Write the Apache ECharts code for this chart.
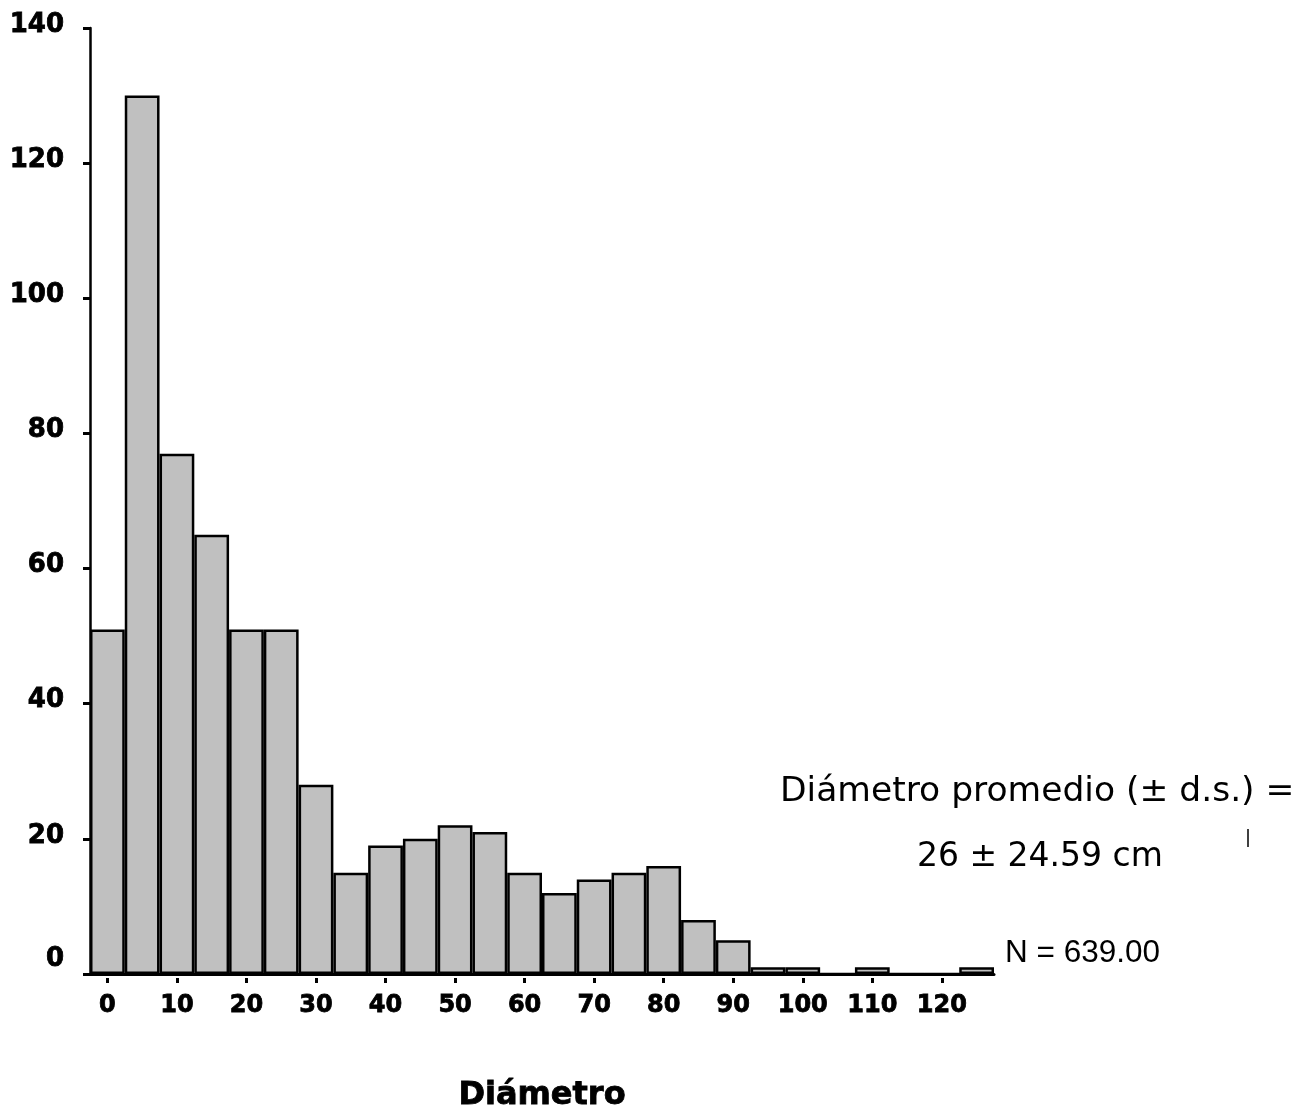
<!DOCTYPE html>
<html>
<head>
<meta charset="utf-8">
<title>Diámetro</title>
<script src="https://cdn.jsdelivr.net/npm/echarts@6/dist/echarts.min.js"></script>
<style>
  html, body { margin: 0; padding: 0; background: #ffffff; }
  #chart { width: 1307px; height: 1110px; }
</style>
</head>
<body>
<div id="chart"></div>
<script>
// Diameter classes (bin centres, cm), 5 cm wide
const binCentres = [0, 5, 10, 15, 20, 25, 30, 35, 40, 45, 50, 55, 60, 65,
                    70, 75, 80, 85, 90, 95, 100, 105, 110, 115, 120, 125];
// Number of trees per class (N = 639)
const counts = [51, 130, 77, 65, 51, 51, 28, 15, 19, 20, 22, 21, 15, 12,
                14, 15, 16, 8, 5, 1, 1, 0, 1, 0, 0, 1];
// Frequency axis ticks
const yTicks = [0, 20, 40, 60, 80, 100, 120, 140];

const statLine1 = 'Diámetro promedio (± d.s.) =';
const statLine2 = '26 ± 24.59 cm';
const nLabel = 'N = 639.00';

const boldFont = 'DejaVu Sans';
const heavy = { fontFamily: boldFont, fontWeight: 'bold', color: '#000',
                textBorderColor: '#000', textBorderWidth: 0.8 };
const chart = echarts.init(document.getElementById('chart'));

const cats = binCentres.map(String);

chart.setOption({
  animation: false,
  backgroundColor: '#ffffff',
  grid: { left: 90, right: 313, top: 28, bottom: 136, containLabel: false,
          outerBoundsMode: 'none' },
  xAxis: [
    {
      type: 'category',
      data: cats,
      boundaryGap: true,
      position: 'bottom',
      axisLine: { show: true, lineStyle: { color: '#000', width: 3 } },
      axisTick: { show: false },
      axisLabel: { show: false },
      splitLine: { show: false },
      name: 'Diámetro',
      nameLocation: 'middle',
      nameGap: 106,
      nameTextStyle: Object.assign({ fontSize: 32 }, heavy)
    },
    {
      type: 'category',
      data: cats,
      boundaryGap: true,
      position: 'bottom',
      offset: 4,
      axisLine: { show: false },
      axisTick: { show: true, alignWithLabel: true, interval: 1, length: 5,
                  lineStyle: { color: '#000', width: 3 } },
      axisLabel: Object.assign({ show: true, interval: 1, margin: 16, fontSize: 24 }, heavy),
      splitLine: { show: false }
    }
  ],
  yAxis: {
    type: 'value',
    min: yTicks[0],
    max: yTicks[yTicks.length - 1],
    interval: yTicks[1] - yTicks[0],
    axisLine: { show: true, lineStyle: { color: '#000', width: 2.5 } },
    axisTick: { show: true, length: 7, lineStyle: { color: '#000', width: 3 } },
    axisLabel: Object.assign({
      margin: 26, fontSize: 26,
      // the zero label sits a little higher so it clears the category labels
      formatter: v => (v === 0 ? '{z|0}' : '{n|' + v + '}'),
      rich: {
        n: Object.assign({ fontSize: 26, padding: [0, 0, 6, 0] }, heavy),
        z: Object.assign({ fontSize: 26, padding: [0, 0, 30, 0] }, heavy)
      }
    }, heavy),
    splitLine: { show: false }
  },
  series: [{
    type: 'bar',
    xAxisIndex: 0,
    data: counts,
    barCategoryGap: '0%',
    itemStyle: { color: '#c0c0c0', borderColor: '#000', borderWidth: 2.5 },
    emphasis: { disabled: true }
  }],
  graphic: [
    {
      type: 'text', left: 780, top: 775,
      style: { text: statLine1, font: '34.5px "DejaVu Sans"', fill: '#000' }
    },
    {
      type: 'text', left: 917, top: 841,
      style: { text: statLine2, font: '33px "DejaVu Sans"', fill: '#000' }
    },
    {
      type: 'line',
      shape: { x1: 1248, y1: 829, x2: 1248, y2: 847 },
      style: { stroke: '#000', lineWidth: 1.5 }
    },
    {
      type: 'text', left: 1005, top: 937,
      style: { text: nLabel, font: '31.5px "Liberation Sans"', fill: '#000' }
    }
  ]
});
</script>
</body>
</html>
